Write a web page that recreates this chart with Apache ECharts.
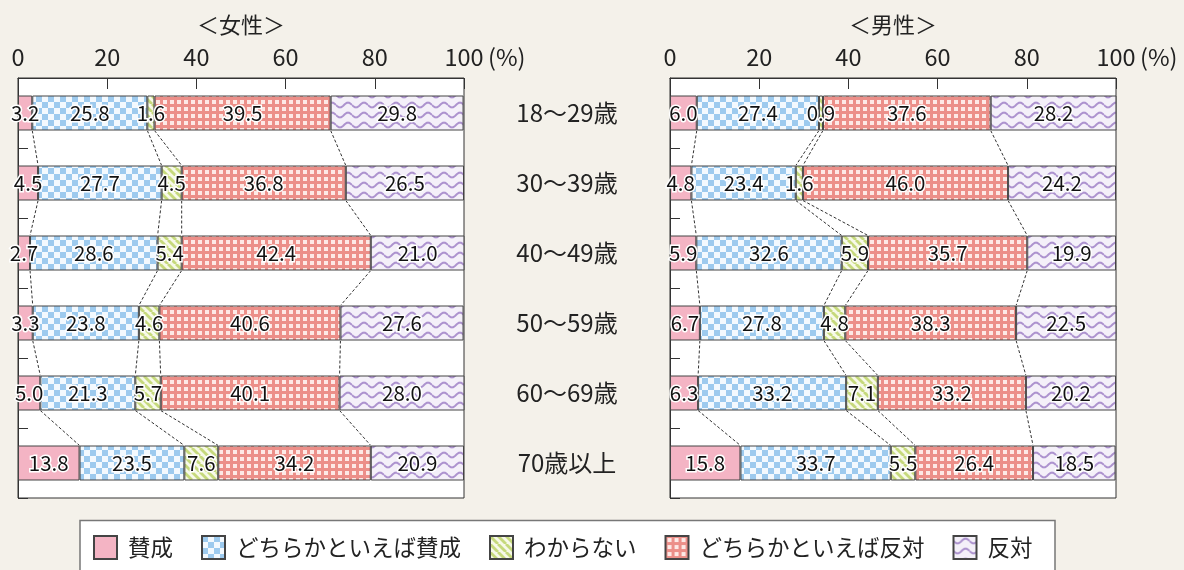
<!DOCTYPE html>
<html>
<head>
<meta charset="utf-8">
<script src="https://cdn.jsdelivr.net/npm/echarts@6/dist/echarts.min.js"></script>
<style>
  html, body { margin: 0; padding: 0; background: #f4f1ea; }
  #chart { width: 1184px; height: 570px; }
</style>
</head>
<body>
<div id="chart"></div>
<script>
// Age groups (top to bottom)
const categories = ['18〜29歳', '30〜39歳', '40〜49歳', '50〜59歳', '60〜69歳', '70歳以上'];
// Answer options (stack order, left to right)
const answers = ['賛成', 'どちらかといえば賛成', 'わからない', 'どちらかといえば反対', '反対'];

// 女性 (%)
const femaleAgree        = [3.2, 4.5, 2.7, 3.3, 5.0, 13.8];
const femaleRatherAgree  = [25.8, 27.7, 28.6, 23.8, 21.3, 23.5];
const femaleUnknown      = [1.6, 4.5, 5.4, 4.6, 5.7, 7.6];
const femaleRatherOppose = [39.5, 36.8, 42.4, 40.6, 40.1, 34.2];
const femaleOppose       = [29.8, 26.5, 21.0, 27.6, 28.0, 20.9];

// 男性 (%)
const maleAgree        = [6.0, 4.8, 5.9, 6.7, 6.3, 15.8];
const maleRatherAgree  = [27.4, 23.4, 32.6, 27.8, 33.2, 33.7];
const maleUnknown      = [0.9, 1.6, 5.9, 4.8, 7.1, 5.5];
const maleRatherOppose = [37.6, 46.0, 35.7, 38.3, 33.2, 26.4];
const maleOppose       = [28.2, 24.2, 19.9, 22.5, 20.2, 18.5];

const FONT = '"Noto Sans CJK JP", "Noto Sans", sans-serif';
const BAR_W = 35;

// ---- fill patterns ----
function makeCanvas(w, h) {
  const c = document.createElement('canvas');
  c.width = w; c.height = h;
  return c;
}
function checkerPattern() {
  const c = makeCanvas(12, 12), g = c.getContext('2d');
  g.fillStyle = '#f3f9fe'; g.fillRect(0, 0, 12, 12);
  g.fillStyle = '#9dcaee';
  g.fillRect(0, 0, 6, 6); g.fillRect(6, 6, 6, 6);
  return c;
}
function stripePattern() {
  const c = makeCanvas(8, 8), g = c.getContext('2d');
  g.fillStyle = '#f7f9e8'; g.fillRect(0, 0, 8, 8);
  g.strokeStyle = '#c6d97c'; g.lineWidth = 2.8;
  for (let k = -8; k <= 8; k += 8) {
    g.beginPath(); g.moveTo(k, 0); g.lineTo(k + 8, 8); g.stroke();
  }
  return c;
}
function gridPattern() {
  const c = makeCanvas(7, 7), g = c.getContext('2d');
  g.fillStyle = '#ec8f89'; g.fillRect(0, 0, 7, 7);
  g.fillStyle = '#fde9e6'; g.fillRect(2, 2, 4, 4);
  return c;
}
function wavePattern() {
  const w = 16, h = 10;
  const c = makeCanvas(w, h), g = c.getContext('2d');
  g.fillStyle = '#f4f0f9'; g.fillRect(0, 0, w, h);
  g.strokeStyle = '#ad93cf'; g.lineWidth = 2;
  g.beginPath();
  for (let x = 0; x <= w; x += 0.5) {
    const y = h / 2 + 2.4 * Math.sin(2 * Math.PI * x / w);
    if (x === 0) g.moveTo(x, y); else g.lineTo(x, y);
  }
  g.stroke();
  return c;
}
const fills = [
  '#f4b4c4',
  { image: checkerPattern(), repeat: 'repeat' },
  { image: stripePattern(), repeat: 'repeat' },
  { image: gridPattern(), repeat: 'repeat' },
  { image: wavePattern(), repeat: 'repeat' }
];

const female = [femaleAgree, femaleRatherAgree, femaleUnknown, femaleRatherOppose, femaleOppose];
const male = [maleAgree, maleRatherAgree, maleUnknown, maleRatherOppose, maleOppose];

// Cumulative boundaries for the dashed connectors between rows
function connectorData(groups) {
  const cum = categories.map((_, i) => {
    let s = 0;
    return groups.slice(0, 4).map(arr => (s += arr[i]));
  });
  const out = [];
  for (let i = 0; i < categories.length - 1; i++) {
    for (let k = 0; k < 4; k++) {
      out.push([cum[i][k], i, cum[i + 1][k], i + 1]);
    }
  }
  return out;
}

function barSeries(groups, idx, stack) {
  return groups.map((arr, k) => ({
    name: answers[k],
    type: 'bar',
    stack: stack,
    xAxisIndex: idx,
    yAxisIndex: idx,
    barWidth: BAR_W,
    data: arr,
    itemStyle: { color: fills[k], borderColor: '#444', borderWidth: 1 },
    label: {
      show: true,
      position: 'inside',
      formatter: p => p.value.toFixed(1),
      fontFamily: FONT,
      fontSize: 20.5,
      color: '#111',
      textBorderColor: '#fff',
      textBorderWidth: 3
    },
    emphasis: { disabled: true }
  }));
}

function connectorSeries(groups, idx) {
  return {
    type: 'custom',
    xAxisIndex: idx,
    yAxisIndex: idx,
    silent: true,
    z: 3,
    encode: { x: [0, 2], y: [1, 3] },
    data: connectorData(groups),
    renderItem: (params, api) => {
      const p1 = api.coord([api.value(0), api.value(1)]);
      const p2 = api.coord([api.value(2), api.value(3)]);
      return {
        type: 'line',
        shape: { x1: p1[0], y1: p1[1] + BAR_W / 2, x2: p2[0], y2: p2[1] - BAR_W / 2 },
        style: { stroke: '#333', lineWidth: 1, lineDash: [3, 2] }
      };
    }
  };
}

function xAxis(gridIndex) {
  return {
    type: 'value', gridIndex, position: 'top',
    min: 0, max: 100, interval: 20,
    axisLine: { show: true, lineStyle: { color: '#333' } },
    axisTick: { show: true, inside: true, length: 11, lineStyle: { color: '#333' } },
    splitLine: { show: false },
    axisLabel: { fontFamily: FONT, fontSize: 23.5, color: '#222', margin: 9 }
  };
}
function yAxis(gridIndex, showLabels) {
  return {
    type: 'category', gridIndex, inverse: true, data: categories,
    axisLine: { show: true, lineStyle: { color: '#333' } },
    axisTick: { show: true, inside: true, length: 10, lineStyle: { color: '#333' } },
    axisLabel: {
      show: showLabels, align: 'center', margin: 103,
      fontFamily: FONT, fontSize: 24, color: '#222'
    }
  };
}

const chart = echarts.init(document.getElementById('chart'), null, { renderer: 'canvas' });
chart.setOption({
  backgroundColor: '#f4f1ea',
  animation: false,
  textStyle: { fontFamily: FONT },
  grid: [
    { left: 18, top: 78, width: 446, height: 420, show: true, backgroundColor: '#fff', borderColor: '#333', borderWidth: 1 },
    { left: 670, top: 78, width: 446, height: 420, show: true, backgroundColor: '#fff', borderColor: '#333', borderWidth: 1 }
  ],
  xAxis: [xAxis(0), xAxis(1)],
  yAxis: [yAxis(0, false), yAxis(1, true)],
  legend: {
    data: answers,
    left: 93, top: 535,
    itemWidth: 23, itemHeight: 23, itemGap: 28,
    icon: 'rect',
    selectedMode: false,
    padding: 0,
    textStyle: { fontFamily: FONT, fontSize: 22.5, color: '#222', padding: [0, 0, 0, 6] }
  },
  graphic: [
    {
      type: 'rect', silent: true, z: -1,
      shape: { x: 80, y: 520.5, width: 975, height: 70 },
      style: { fill: '#fff', stroke: '#777', lineWidth: 1.5 }
    },
    {
      type: 'text', x: 241, y: 25,
      style: { text: '＜女性＞', font: '22px ' + FONT, fill: '#222', textAlign: 'center', textVerticalAlign: 'middle' }
    },
    {
      type: 'text', x: 893, y: 25,
      style: { text: '＜男性＞', font: '22px ' + FONT, fill: '#222', textAlign: 'center', textVerticalAlign: 'middle' }
    },
    {
      type: 'text', x: 488, y: 57,
      style: { text: '(%)', font: '23.5px ' + FONT, fill: '#222', textAlign: 'left', textVerticalAlign: 'middle' }
    },
    {
      type: 'text', x: 1140, y: 57,
      style: { text: '(%)', font: '23.5px ' + FONT, fill: '#222', textAlign: 'left', textVerticalAlign: 'middle' }
    }
  ],
  series: [
    ...barSeries(female, 0, 'female'),
    ...barSeries(male, 1, 'male'),
    connectorSeries(female, 0),
    connectorSeries(male, 1)
  ]
});
</script>
</body>
</html>
